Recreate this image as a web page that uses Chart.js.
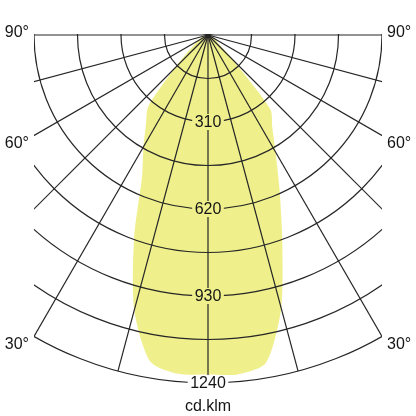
<!DOCTYPE html>
<html>
<head>
<meta charset="utf-8">
<script src="https://cdn.jsdelivr.net/npm/chart.js@4.4.0/dist/chart.umd.min.js"></script>
<style>
html,body{margin:0;padding:0;background:#fff;overflow:hidden}
#wrap{position:relative;width:416px;height:416px}
</style>
</head>
<body>
<div id="wrap"><canvas id="c" width="416" height="416"></canvas></div>
<script>
// ---- data ----
const gammaDeg = [-90,-85,-80,-75,-70,-65,-60,-55,-50,-45,-40,-35,-30,-25,-20,-15,-10,-5,0,
                  5,10,15,20,25,30,35,40,45,50,55,60,65,70,75,80,85,90];
const intensity = [0,7,14,18,25,32,43,60,93,170,331,385,460,556,770,1015,1182,1212,1210,
                   1214,1187,1008,773,602,481,399,346,125,53,36,28,21,18,14,11,7,0];
const ringLabels = [310,620,930,1240];
const angleLabelValues = [90,60,30];
const angleLabelTexts = ['90°','60°','30°'];
const unitLabel = 'cd.klm';
const maxValue = 1240;
const ringStep = 155;
const spokeStep = 15;
const sampleStep = 5;

// ---- styles ----
const fillColor = '#eff08c';
const lineColor = '#262626';
const textColor = '#151515';
const font = '16px "Liberation Sans", Arial, sans-serif';

// build radar table (full circle, lower half carries the curve)
const n = 360 / sampleStep;
const labels = [];
const values = new Array(n).fill(0);
for (let i = 0; i < n; i++) labels.push(i * sampleStep);
gammaDeg.forEach((g, k) => {
  const i = (((-g / sampleStep) % n) + n) % n;
  values[i] = intensity[k];
});

const layoutPlugin = {
  id: 'ldcLayout',
  afterLayout(chart) {
    const s = chart.scales.r;
    s.xCenter = 208;
    s.yCenter = 35;
    s.drawingArea = 348;
  },
  afterDatasetsDraw(chart) {
    const s = chart.scales.r;
    const c = chart.ctx;
    const hw = s.getDistanceFromCenterForValue(maxValue / 2);
    c.save();
    c.beginPath();
    c.rect(s.xCenter - hw, s.yCenter - 1, hw * 2, chart.height);
    c.clip();
  },
  afterDraw(chart) {
    const c = chart.ctx;
    c.restore();
    const s = chart.scales.r;
    const hw = s.getDistanceFromCenterForValue(maxValue / 2);
    c.save();
    c.font = font;
    c.textBaseline = 'middle';
    c.textAlign = 'center';
    ringLabels.forEach(v => {
      const y = s.yCenter + s.getDistanceFromCenterForValue(v);
      const txt = String(v);
      const w = c.measureText(txt).width + 5;
      c.fillStyle = v < values[0] ? fillColor : '#ffffff';
      c.fillRect(s.xCenter - w / 2, y - 8, w, 16);
      c.fillStyle = textColor;
      c.fillText(txt, s.xCenter, y + 1);
    });
    angleLabelValues.forEach((a, k) => {
      const rad = a * Math.PI / 180;
      const y = s.yCenter + hw / Math.tan(rad) + (a < 90 ? 8 : -2);
      c.fillStyle = textColor;
      c.textAlign = 'right';
      c.fillText(angleLabelTexts[k], s.xCenter - hw - 5, y);
      c.textAlign = 'left';
      c.fillText(angleLabelTexts[k], s.xCenter + hw + 5, y);
    });
    c.textAlign = 'center';
    c.fillText(unitLabel, s.xCenter, s.yCenter + s.getDistanceFromCenterForValue(maxValue) + 24);
    c.restore();
  }
};

new Chart(document.getElementById('c'), {
  type: 'radar',
  data: {
    labels: labels,
    datasets: [{
      data: values,
      backgroundColor: fillColor,
      borderColor: 'rgba(0,0,0,0)',
      borderWidth: 0,
      fill: true,
      pointRadius: 0,
      pointHoverRadius: 0,
      tension: 0.25,
      clip: false
    }]
  },
  options: {
    responsive: false,
    animation: false,
    events: [],
    layout: { padding: 0 },
    plugins: { legend: { display: false }, tooltip: { enabled: false } },
    scales: {
      r: {
        min: 0,
        max: maxValue,
        startAngle: 180,
        ticks: { display: false, stepSize: ringStep, z: 1 },
        pointLabels: { display: false },
        grid: { circular: true, color: lineColor, lineWidth: 1.2, z: 1 },
        angleLines: {
          display: true,
          color: lineColor,
          lineWidth: ctx => ((ctx.index * sampleStep) % spokeStep === 0 ? 1.2 : 0)
        }
      }
    }
  },
  plugins: [layoutPlugin]
});
</script>
</body>
</html>
